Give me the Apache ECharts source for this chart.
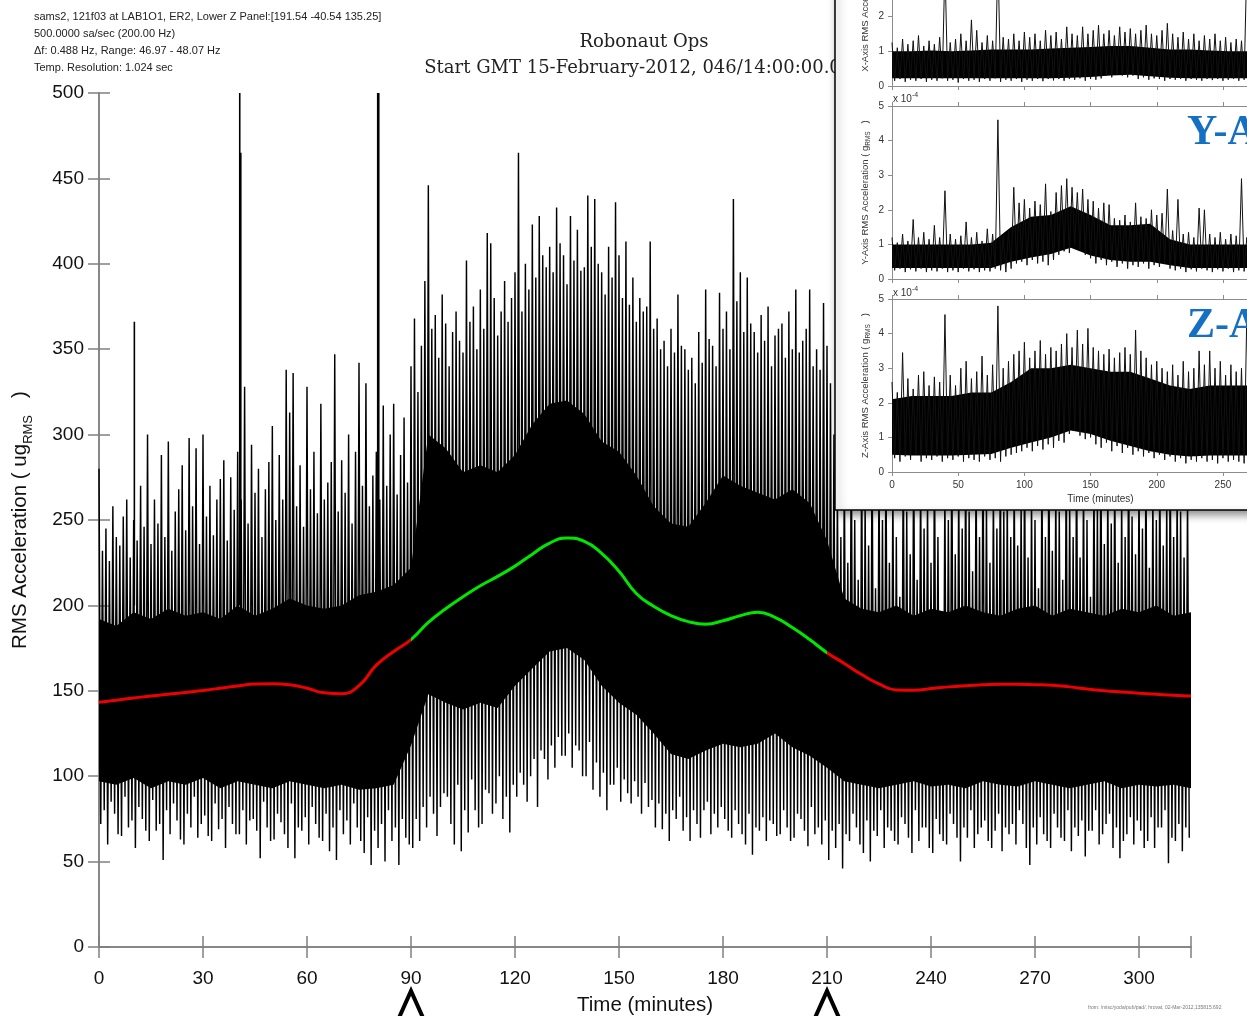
<!DOCTYPE html>
<html>
<head>
<meta charset="utf-8">
<script src="https://cdn.jsdelivr.net/npm/echarts@6/dist/echarts.min.js"></script>
<style>
html, body { margin: 0; padding: 0; background: #fff; }
#chart { width: 1247px; height: 1016px; }
</style>
</head>
<body>
<div id="chart"></div>
<script>
// ---- main plot, ug RMS ----
// per-minute maximum, t = 0..314
var mainMax = [
  280,232,245,226,258,240,235,252,262,228, 250,238,270,246,300,236,262,248,288,240,
  296,232,255,268,282,244,298,258,292,236, 300,252,270,241,262,274,285,238,275,256,
  290,262,328,248,294,266,280,240,268,284, 305,250,288,262,338,313,336,258,282,246,
  328,268,290,254,318,262,272,284,347,255, 285,266,300,248,290,342,270,330,258,276,
  290,262,317,270,300,318,265,288,310,272,
  340,368,325,352,390,446,362,370,345,382, 365,340,360,372,355,348,402,366,375,350,
  385,362,418,412,380,358,372,390,366,380, 395,465,372,400,385,423,392,428,405,398,
  410,395,433,412,405,388,428,402,420,396, 398,440,410,438,400,395,382,410,392,436,
  405,380,413,376,392,366,380,372,375,413, 362,368,350,355,340,362,348,382,352,350,
  338,345,330,360,342,385,356,352,340,383, 362,372,350,438,378,395,360,392,365,360,
  348,370,355,375,340,358,362,365,345,372, 350,385,348,355,362,385,340,350,338,377,
  352,330,
  300,270,240,285,225,300,250,215,290,260, 235,300,210,280,250,295,225,270,240,205,
  290,255,230,300,215,280,245,265,225,295, 240,185,270,250,295,230,275,245,290,255,
  220,285,240,300,260,225,270,245,290,255, 265,240,280,235,260,290,228,265,250,210,
  285,240,300,232,270,255,215,288,262,240, 295,228,275,250,205,280,258,300,236,270,
  248,285,225,265,240,298,252,230,275,245, 290,222,268,250,285,235,262,295,240,270,
  255,228,265
];
// per-minute minimum, t = 0..314
var mainMin = [
  72,80,60,85,78,66,65,88,70,74, 58,82,75,68,62,86,68,72,51,80,
  66,84,74,63,60,78,70,88,64,72, 77,65,62,84,69,75,58,82,72,66,
  66,80,60,74,75,68,52,85,70,62, 63,78,73,66,58,84,52,70,68,76,
  60,82,72,64,62,78,56,70,51,80, 66,74,60,84,70,62,55,76,48,68,
  58,72,50,80,62,70,48,75,64,60,
  58,75,62,82,70,88,78,65,82,90, 88,72,60,95,56,80,67,98,80,70,
  72,92,90,78,84,100,75,88,67,95, 88,102,95,85,100,110,82,115,110,98,
  118,105,123,112,112,125,105,118,115,100, 100,120,92,108,88,102,80,95,95,105,
  85,98,90,84,97,88,78,96,82,86, 70,84,69,78,62,80,75,88,68,76,
  62,80,72,64,80,85,66,78,70,82, 75,68,64,80,72,66,60,78,54,70,
  68,76,62,74,72,65,66,80,70,62, 64,78,75,68,59,82,66,70,60,74,
  51,68,
  58,72,46,66,62,78,70,60,55,74, 50,68,65,80,58,70,68,62,60,76,
  72,64,55,80,62,70,70,58,55,75, 66,62,60,78,72,64,50,70,64,80,
  58,66,70,74,62,58,68,78,56,70, 66,72,60,80,72,58,48,70,60,76,
  66,62,58,78,70,64,62,80,56,70, 65,74,53,68,68,80,60,66,72,78,
  58,70,52,62,66,76,60,74,68,58, 62,76,58,70,70,80,49,64,62,72,
  56,70,64
];
// solid core of the signal, every 5 minutes (0..315)
var mainBandHi = [
  192,188,196,192,198,194,196,192,200,194,
  198,204,200,198,200,206,208,212,222,300,
  292,278,282,278,288,306,318,320,312,296,
  290,276,258,248,246,260,276,270,266,262,
  268,260,238,204,198,196,200,194,198,196,
  200,196,194,198,200,194,198,196,194,198,
  196,200,194,196
];
var mainBandLo = [
  97,95,99,93,97,95,99,93,97,95,
  93,97,95,93,95,92,93,95,118,148,
  143,139,143,140,153,163,173,175,168,153,
  143,136,125,113,110,115,119,117,119,125,
  117,112,105,97,95,93,95,97,94,95,
  93,97,95,94,97,95,93,95,97,93,
  95,94,95,93
];
// isolated tall spikes [minute, ug]
var mainPeaks = [[10.2, 366], [40.6, 500], [40.9, 465], [80.4, 500], [80.7, 500]];
// smoothed trend, every 5 minutes
var trend = [
  143.3,144.5,145.8,147,148,149,150.2,151.5,152.8,154,
  154.2,153.5,151.5,148.8,148.3,153,165,173,180,190,
  198,205,211.5,217,223,230,236.5,239.4,237.5,230.5,
  220,207,199.5,194,190.5,189,191,194,196,193,
  187,180,172.3,166,159.5,154,150.5,150.3,151.3,152.3,
  153,153.5,153.8,153.8,153.6,153.3,152.3,151,150,149.3,
  148.6,148,147.4,147
];
var opsStart = 90, opsEnd = 210;

// ---- inset, x 1e-4 g RMS, alternating max/min every 2 minutes (0..270) ----
var xTrace = [
  1.25,0.15, 1.1,0.2, 1.35,0.12, 1.2,0.18, 1.3,0.15, 1.45,0.2, 1.15,0.12, 1.3,0.18, 1.2,0.15, 1.4,0.22,
  3.5,0.15, 1.25,0.18, 1.35,0.1, 1.5,0.2, 1.3,0.15, 1.9,0.18, 1.6,0.12, 1.25,0.2, 1.45,0.15, 1.3,0.22,
  3.8,0.12, 1.4,0.18, 1.35,0.15, 1.5,0.2, 1.3,0.12, 1.55,0.18, 1.4,0.15, 1.5,0.2, 1.3,0.14, 1.6,0.2,
  1.45,0.16, 1.55,0.2, 1.35,0.15, 1.7,0.2, 1.5,0.18, 1.45,0.22, 1.7,0.15, 1.5,0.2, 1.6,0.18, 1.75,0.22,
  1.5,0.3, 1.6,0.25, 1.45,0.35, 1.7,0.3, 1.55,0.25, 1.65,0.3, 1.5,0.2, 1.6,0.25, 1.75,0.18, 1.5,0.22,
  1.45,0.2, 1.6,0.15, 1.8,0.2, 1.5,0.18, 1.4,0.2, 1.55,0.15, 1.35,0.2, 1.5,0.18, 1.3,0.15, 1.45,0.2,
  1.35,0.17, 1.5,0.2, 1.3,0.15, 1.4,0.18, 1.25,0.2, 1.35,0.15, 1.3,0.18, 3.5,0.15
];
var yTrace = [
  1.2,0.25, 1.05,0.3, 1.3,0.2, 1.1,0.28, 1.72,0.22, 1.2,0.3, 1.35,0.2, 1.15,0.25, 1.55,0.22, 1.2,0.3,
  2.55,0.2, 1.3,0.25, 1.15,0.2, 1.25,0.3, 1.65,0.22, 1.2,0.28, 1.35,0.2, 1.1,0.25, 1.45,0.22, 1.3,0.3,
  4.6,0.25, 1.25,0.2, 1.4,0.3, 2.65,0.45, 2.2,0.5, 2.3,0.4, 2.05,0.55, 2.25,0.45, 2.15,0.5, 2.75,0.4,
  1.95,0.55, 2.5,0.7, 2.7,0.8, 2.9,0.75, 2.65,1.0, 2.5,0.85, 2.6,0.7, 2.3,0.6, 2.25,0.45, 2.05,0.55,
  2.2,0.4, 2.15,0.5, 1.75,0.35, 1.7,0.45, 1.85,0.3, 1.65,0.4, 2.2,0.35, 1.8,0.45, 1.75,0.3, 2.0,0.4,
  1.85,0.35, 1.9,0.45, 2.6,0.3, 1.4,0.25, 2.3,0.3, 1.3,0.2, 1.35,0.28, 1.2,0.22, 2.05,0.3, 2.0,0.25,
  1.3,0.2, 1.2,0.28, 1.35,0.22, 1.15,0.3, 1.3,0.2, 1.25,0.25, 2.9,0.22, 1.2,0.3
];
var zTrace = [
  2.6,0.4, 2.3,0.3, 3.45,0.45, 2.7,0.35, 2.4,0.5, 2.8,0.3, 2.9,0.4, 2.5,0.35, 2.75,0.45, 2.6,0.3,
  4.55,0.4, 2.8,0.35, 2.5,0.45, 3.0,0.3, 3.2,0.4, 2.7,0.35, 2.9,0.3, 3.35,0.45, 2.8,0.35, 3.1,0.4,
  4.8,0.3, 3.0,0.45, 3.2,0.5, 3.4,0.55, 3.5,0.6, 3.75,0.7, 3.3,0.6, 3.5,0.75, 3.8,0.65, 3.4,0.8,
  3.6,0.7, 3.5,0.9, 3.7,0.85, 4.0,1.1, 3.6,1.2, 4.1,1.05, 3.7,0.95, 4.15,1.0, 3.6,0.8, 3.5,0.7,
  3.4,0.85, 3.55,0.6, 3.3,0.75, 3.45,0.55, 3.6,0.7, 3.4,0.5, 4.1,0.6, 3.5,0.45, 3.3,0.55, 3.1,0.4,
  3.2,0.5, 3.0,0.35, 2.9,0.45, 3.1,0.3, 2.8,0.4, 3.2,0.25, 2.9,0.35, 3.0,0.3, 3.5,0.4, 3.1,0.3,
  3.5,0.35, 3.0,0.25, 3.2,0.4, 2.8,0.3, 3.1,0.35, 2.9,0.3, 3.0,0.25, 4.5,0.35
];
// inset dense cores, every 15 minutes (0..270)
var xBandLo = [0.22,0.22,0.22,0.22,0.22,0.22,0.22,0.22,0.22,0.24,0.26,0.3,0.32,0.28,0.24,0.22,0.22,0.22,0.22];
var xBandHi = [1.0,1.0,1.02,1.0,1.02,1.05,1.05,1.05,1.08,1.1,1.12,1.15,1.15,1.1,1.05,1.05,1.02,1.0,1.0];
var yBandLo = [0.32,0.32,0.32,0.32,0.32,0.32,0.5,0.62,0.72,0.9,0.68,0.55,0.5,0.5,0.4,0.32,0.32,0.32,0.32];
var yBandHi = [1.0,1.0,1.0,1.0,1.0,1.05,1.5,1.8,1.85,2.1,1.85,1.55,1.55,1.6,1.15,1.0,1.0,1.0,1.0];
var zBandLo = [0.5,0.48,0.48,0.48,0.5,0.52,0.7,0.85,1.0,1.2,1.1,0.9,0.75,0.6,0.5,0.45,0.48,0.48,0.48];
var zBandHi = [2.1,2.2,2.2,2.2,2.3,2.3,2.6,3.0,3.0,3.1,3.0,2.9,2.9,2.7,2.5,2.4,2.5,2.5,2.5];

var headerLines = [
  'sams2, 121f03 at LAB1O1, ER2, Lower Z Panel:[191.54 -40.54 135.25]',
  '500.0000 sa/sec (200.00 Hz)',
  '\u0394f: 0.488 Hz, Range: 46.97 - 48.07 Hz',
  'Temp. Resolution: 1.024 sec'
];

function pairs(arr, step) {
  return arr.map(function (v, i) { return [i * step, v]; });
}
// max at the start of each minute, min half a minute later
function zigzag(maxs, mins) {
  var out = [];
  for (var i = 0; i < maxs.length; i++) {
    out.push([i, maxs[i]]);
    out.push([i + 0.5, mins[i]]);
  }
  return out;
}

function bandRender(step, hi, lo) {
  return function (params, api) {
    var pts = [];
    for (var i = 0; i < hi.length; i++) pts.push(api.coord([i * step, hi[i]]));
    for (var j = lo.length - 1; j >= 0; j--) pts.push(api.coord([j * step, lo[j]]));
    return { type: 'polygon', shape: { points: pts }, style: { fill: '#000' } };
  };
}

var sans = 'Liberation Sans, Arial, sans-serif';
var chart = echarts.init(document.getElementById('chart'));

var grids = [
  { left: 99, right: 56, top: 93, bottom: 69, outerBoundsMode: 'none' },
  { left: 892, width: 417, top: -88, height: 174, z: 11, outerBoundsMode: 'none' },
  { left: 892, width: 417, top: 106, height: 173, z: 11, outerBoundsMode: 'none' },
  { left: 892, width: 417, top: 299, height: 173, z: 11, outerBoundsMode: 'none' }
];

var mainLine = { lineStyle: { color: '#808080', width: 1.5 } };
var mainTick = { inside: false, length: 11, lineStyle: { color: '#808080', width: 1.5 } };

var xAxes = [
  { type: 'value', gridIndex: 0, min: 0, max: 315, interval: 30, position: 'bottom',
    axisLine: mainLine, axisTick: mainTick, splitLine: { show: false },
    axisLabel: { fontSize: 19, fontFamily: sans, color: '#111', margin: 22,
      formatter: function (v) { return v > 300 ? '' : v; } },
    name: 'Time (minutes)', nameLocation: 'middle', nameGap: 48,
    nameTextStyle: { fontSize: 20.5, fontFamily: sans, color: '#111' } },
  { type: 'value', gridIndex: 0, min: 0, max: 315, interval: 30, position: 'top',
    axisLine: mainLine, axisTick: mainTick, splitLine: { show: false }, axisLabel: { show: false } }
];
var yAxes = [
  { type: 'value', gridIndex: 0, min: 0, max: 500, interval: 50, position: 'left',
    axisLine: mainLine, axisTick: mainTick, splitLine: { show: false },
    axisLabel: { fontSize: 19, fontFamily: sans, color: '#111', margin: 15 },
    name: '{n|RMS Acceleration ( ug}{s|RMS}{n|   )}', nameLocation: 'middle', nameGap: 64,
    nameTextStyle: { fontFamily: sans, color: '#111',
      rich: { n: { fontSize: 20.5, fontFamily: sans, lineHeight: 30, verticalAlign: 'middle' },
              s: { fontSize: 13, fontFamily: sans, lineHeight: 30, verticalAlign: 'bottom' } } } },
  { type: 'value', gridIndex: 0, min: 0, max: 500, interval: 50, position: 'right',
    axisLine: mainLine, axisTick: mainTick, splitLine: { show: false }, axisLabel: { show: false } }
];

var insetLine = { lineStyle: { color: '#8c8c8c', width: 1 } };
var insetTick = { inside: false, length: 4, lineStyle: { color: '#8c8c8c', width: 1 } };
var panelNames = ['X-Axis', 'Y-Axis', 'Z-Axis'];
for (var k = 0; k < 3; k++) {
  var g = k + 1;
  xAxes.push({ type: 'value', gridIndex: g, min: 0, max: 315, interval: 50, position: 'bottom', z: 11,
    axisLine: insetLine, axisTick: insetTick, splitLine: { show: false },
    axisLabel: { show: k === 2, fontSize: 10, fontFamily: sans, color: '#333', margin: 8,
      formatter: function (v) { return v > 300 ? '' : v; } },
    name: k === 2 ? 'Time (minutes)' : '', nameLocation: 'middle', nameGap: 22,
    nameTextStyle: { fontSize: 10, fontFamily: sans, color: '#333' } });
  xAxes.push({ type: 'value', gridIndex: g, min: 0, max: 315, interval: 50, position: 'top', z: 11,
    axisLine: insetLine, axisTick: insetTick, splitLine: { show: false }, axisLabel: { show: false } });
  yAxes.push({ type: 'value', gridIndex: g, min: 0, max: 5, interval: 1, position: 'left', z: 11,
    axisLine: insetLine, axisTick: insetTick, splitLine: { show: false },
    axisLabel: { fontSize: 10, fontFamily: sans, color: '#333', margin: 8 },
    name: '{n|' + panelNames[k] + ' RMS Acceleration ( g}{s|RMS}{n|   )}', nameLocation: 'middle', nameGap: 20,
    nameTextStyle: { color: '#333',
      rich: { n: { fontSize: 9.5, fontFamily: sans, lineHeight: 14, verticalAlign: 'middle' },
              s: { fontSize: 6.5, fontFamily: sans, lineHeight: 14, verticalAlign: 'bottom' } } } });
}

var series = [
  { type: 'custom', xAxisIndex: 0, yAxisIndex: 0, z: 2, silent: true, data: [[0, 0]],
    renderItem: bandRender(5, mainBandHi, mainBandLo) },
  { type: 'line', xAxisIndex: 0, yAxisIndex: 0, z: 3, silent: true, symbol: 'none',
    data: zigzag(mainMax, mainMin), lineStyle: { color: '#000', width: 1.45 } },
  { type: 'custom', xAxisIndex: 0, yAxisIndex: 0, z: 3, silent: true, data: mainPeaks,
    renderItem: function (params, api) {
      var top = api.coord([api.value(0), api.value(1)]);
      var base = api.coord([api.value(0), 200]);
      return { type: 'line', shape: { x1: top[0], y1: base[1], x2: top[0], y2: top[1] },
        style: { stroke: '#000', lineWidth: 1.6 } };
    } },
  { type: 'line', xAxisIndex: 0, yAxisIndex: 0, z: 4, silent: true, symbol: 'none', smooth: true,
    data: pairs(trend, 5), lineStyle: { width: 3 } }
];
var trendIndex = 3;

var insetTraces = [xTrace, yTrace, zTrace];
var insetBands = [[xBandHi, xBandLo], [yBandHi, yBandLo], [zBandHi, zBandLo]];
for (var p = 0; p < 3; p++) {
  series.push({ type: 'custom', xAxisIndex: 2 + 2 * p, yAxisIndex: 2 + p, z: 12, silent: true,
    data: [[0, 0]], renderItem: bandRender(15, insetBands[p][0], insetBands[p][1]) });
  series.push({ type: 'line', xAxisIndex: 2 + 2 * p, yAxisIndex: 2 + p, z: 13, silent: true, symbol: 'none',
    data: pairs(insetTraces[p], 2), lineStyle: { color: '#111', width: 1 } });
}

var graphics = [];
headerLines.forEach(function (t, i) {
  graphics.push({ id: 'h' + i, type: 'text', x: 34, y: 17 + i * 17,
    style: { text: t, fontSize: 11, fontFamily: sans, fill: '#222', textVerticalAlign: 'middle' } });
});
graphics.push({ id: 't1', type: 'text', x: 644, y: 42, style: { text: 'Robonaut Ops',
  fontSize: 18, fontFamily: 'DejaVu Serif', fill: '#222', textAlign: 'center', textVerticalAlign: 'middle' } });
graphics.push({ id: 't2', type: 'text', x: 644, y: 68, style: { text: 'Start GMT 15-February-2012, 046/14:00:00.000',
  fontSize: 18, fontFamily: 'DejaVu Serif', fill: '#222', textAlign: 'center', textVerticalAlign: 'middle' } });
graphics.push({ id: 'foot', type: 'text', x: 1088, y: 1008, style: {
  text: 'from: /misc/yoda/pub/pad/, hrovat, 02-Mar-2012,135815.692',
  fontSize: 5, fontFamily: sans, fill: '#777', textVerticalAlign: 'middle' } });
graphics.push({ id: 'inset', type: 'rect', z: 10, shape: { x: 835, y: -20, width: 440, height: 530 },
  style: { fill: '#fff', stroke: '#000', lineWidth: 1.5,
    shadowBlur: 8, shadowOffsetX: 3, shadowOffsetY: 4, shadowColor: 'rgba(0,0,0,0.45)' } });
[['ey', 99], ['ez', 293]].forEach(function (e) {
  graphics.push({ id: e[0], type: 'text', z: 14, x: 893, y: e[1], style: {
    text: 'x 10{s|-4}', fontSize: 10, fontFamily: sans, fill: '#333', textVerticalAlign: 'middle',
    rich: { s: { fontSize: 7, fontFamily: sans, verticalAlign: 'top', lineHeight: 14 } } } });
});
[['ly', 'Y-Axis', 133], ['lz', 'Z-Axis', 326]].forEach(function (e) {
  graphics.push({ id: e[0], type: 'text', z: 20, x: 1187, y: e[2], style: {
    text: e[1], fontSize: 42, fontWeight: 'bold', fontFamily: 'Liberation Serif, serif',
    fill: '#1570c3', textVerticalAlign: 'middle' } });
});

chart.setOption({
  animation: false,
  backgroundColor: '#fff',
  grid: grids,
  xAxis: xAxes,
  yAxis: yAxes,
  visualMap: [{ type: 'piecewise', show: false, dimension: 0, seriesIndex: trendIndex,
    pieces: [{ lt: opsStart, color: '#ee0000' }, { gte: opsStart, lte: opsEnd, color: '#00e600' },
             { gt: opsEnd, color: '#ee0000' }] }],
  series: series,
  graphic: { elements: graphics }
});

// arrows marking the start and end of operations, placed through the time axis
var arrows = [opsStart, opsEnd].map(function (t, i) {
  var px = chart.convertToPixel({ xAxisIndex: 0 }, t);
  return { id: 'arrow' + i, type: 'polyline', z: 20,
    shape: { points: [[px - 13, 1020], [px, 991], [px + 13, 1020]] },
    style: { stroke: '#000', lineWidth: 4, fill: null } };
});
chart.setOption({ graphic: { elements: arrows } });
</script>
</body>
</html>
